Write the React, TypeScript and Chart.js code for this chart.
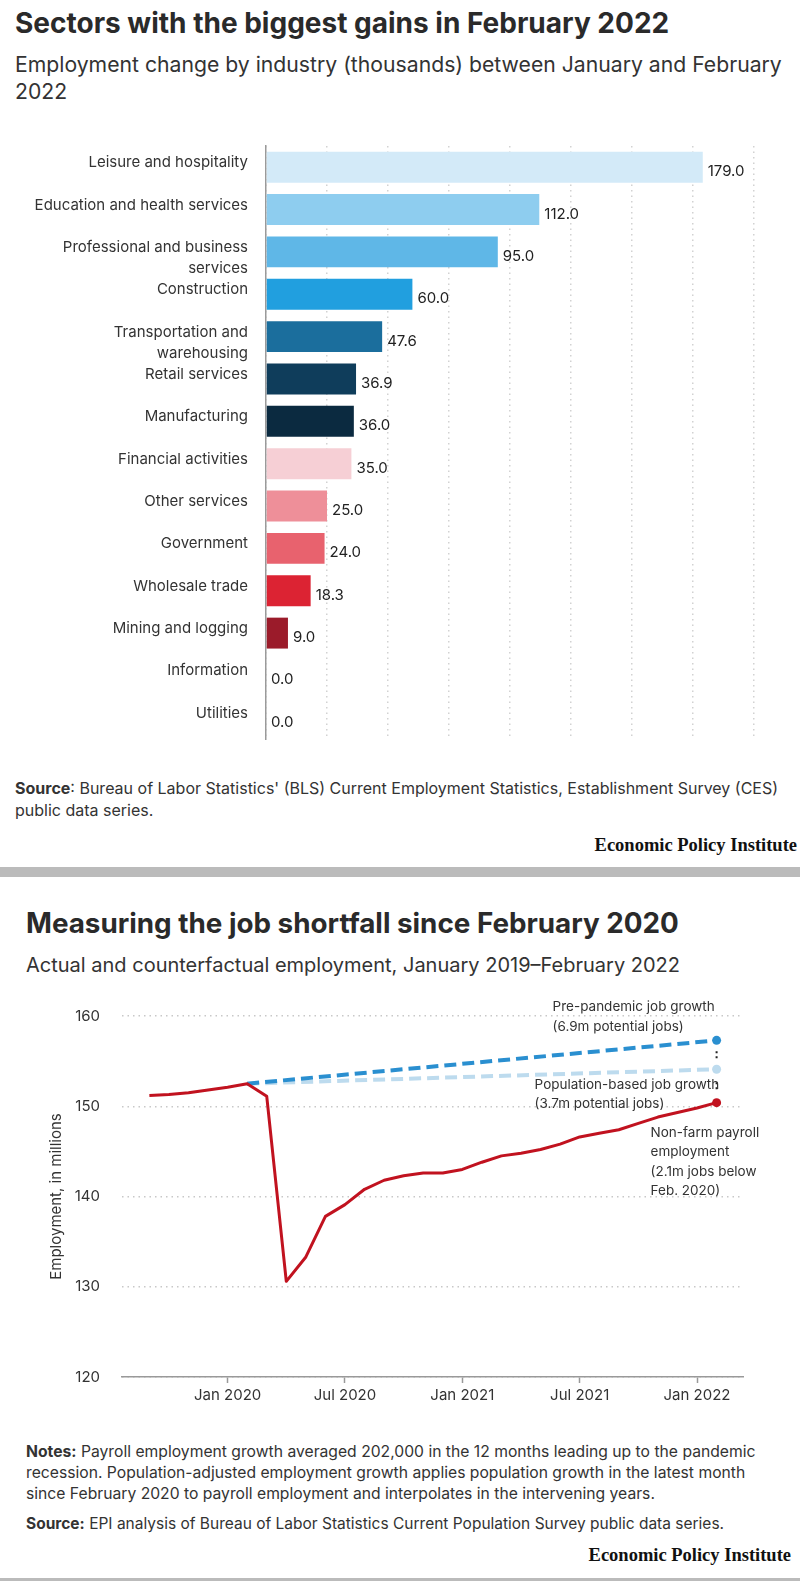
import React, { useEffect, useRef } from 'react';
import { Chart, registerables } from 'chart.js';

Chart.register(...registerables);

const FONT = 'Inter, "Noto Sans", sans-serif';
const SERIF = '"Liberation Serif", "DejaVu Serif", serif';

// ---------- Chart 1: sectors ----------
const sectorCategories: string[][] = [
  ['Leisure and hospitality', ''],
  ['Education and health services', ''],
  ['Professional and business', 'services'],
  ['Construction', ''],
  ['Transportation and', 'warehousing'],
  ['Retail services', ''],
  ['Manufacturing', ''],
  ['Financial activities', ''],
  ['Other services', ''],
  ['Government', ''],
  ['Wholesale trade', ''],
  ['Mining and logging', ''],
  ['Information', ''],
  ['Utilities', ''],
];
const sectorValues = [179.0, 112.0, 95.0, 60.0, 47.6, 36.9, 36.0, 35.0, 25.0, 24.0, 18.3, 9.0, 0.0, 0.0];
const sectorColors = [
  '#d3eaf8', '#8ecdef', '#5fb7e7', '#219fdf', '#1b6e9d', '#0f3d5b', '#0b2a40',
  '#f6cfd5', '#ee8f99', '#e8626e', '#dc2333', '#9b1b2a', '#9b1b2a', '#9b1b2a',
];

// ---------- Chart 2: job shortfall ----------
const payrollMonths = [
  '2019-09', '2019-10', '2019-11', '2019-12',
  '2020-01', '2020-02', '2020-03', '2020-04', '2020-05', '2020-06',
  '2020-07', '2020-08', '2020-09', '2020-10', '2020-11', '2020-12',
  '2021-01', '2021-02', '2021-03', '2021-04', '2021-05', '2021-06',
  '2021-07', '2021-08', '2021-09', '2021-10', '2021-11', '2021-12',
  '2022-01', '2022-02',
];
const payrollValues = [
  151.2, 151.3, 151.5, 151.8,
  152.1, 152.5, 151.1, 130.6, 133.3, 137.8,
  139.1, 140.8, 141.8, 142.3, 142.6, 142.6,
  143.0, 143.8, 144.5, 144.8, 145.2, 145.8,
  146.6, 147.0, 147.4, 148.1, 148.8, 149.3,
  149.8, 150.4,
];
const projectionMonths = ['2020-02', '2022-02'];
const prePandemicValues = [152.5, 157.3];
const populationValues = [152.5, 154.1];
const xTickMonths = ['2020-01', '2020-07', '2021-01', '2021-07', '2022-01'];
const xTickLabels = ['Jan 2020', 'Jul 2020', 'Jan 2021', 'Jul 2021', 'Jan 2022'];
const preNote = ['Pre-pandemic job growth', '(6.9m potential jobs)'];
const popNote = ['Population-based job growth', '(3.7m potential jobs)'];
const payrollNote = ['Non-farm payroll', 'employment', '(2.1m jobs below', 'Feb. 2020)'];

const RED = '#c1121f';
const BLUE = '#2a8fd0';
const LIGHT = '#bddbee';

const toMonthIndex = (m: string) => {
  const [y, mo] = m.split('-').map(Number);
  return (y - 2020) * 12 + (mo - 1);
};

const valueLabelPlugin = {
  id: 'valueLabels',
  afterDatasetsDraw(chart: any) {
    const ctx = chart.ctx;
    const meta = chart.getDatasetMeta(0);
    ctx.save();
    ctx.font = `15px ${FONT}`;
    ctx.fillStyle = '#222';
    ctx.textAlign = 'left';
    ctx.textBaseline = 'middle';
    meta.data.forEach((bar: any, i: number) => {
      ctx.fillText(sectorValues[i].toFixed(1), bar.x + 5, bar.y + 4.5);
    });
    ctx.restore();
  },
};

const notesPlugin = {
  id: 'lineNotes',
  afterDatasetsDraw(chart: any) {
    const ctx = chart.ctx;
    const pre = chart.getDatasetMeta(1).data;
    const pop = chart.getDatasetMeta(2).data;
    const pay = chart.getDatasetMeta(0).data;
    const preEnd = pre[pre.length - 1];
    const popEnd = pop[pop.length - 1];
    const payEnd = pay[pay.length - 1];
    ctx.save();
    ctx.font = `13.5px ${FONT}`;
    ctx.fillStyle = '#333';
    ctx.textAlign = 'left';
    ctx.textBaseline = 'middle';
    preNote.forEach((t, i) => ctx.fillText(t, preEnd.x - 164, preEnd.y - 33 + i * 20));
    popNote.forEach((t, i) => ctx.fillText(t, popEnd.x - 182, popEnd.y + 16 + i * 19));
    payrollNote.forEach((t, i) => ctx.fillText(t, payEnd.x - 66, payEnd.y + 30 + i * 19.5));
    ctx.restore();
  },
};

function SectorChart() {
  const ref = useRef<HTMLCanvasElement>(null);
  useEffect(() => {
    if (!ref.current) return;
    const chart = new Chart(ref.current, {
      type: 'bar',
      data: {
        labels: sectorCategories as any,
        datasets: [
          {
            data: sectorValues,
            backgroundColor: sectorColors,
            barPercentage: 0.73,
            categoryPercentage: 1,
          },
        ],
      },
      options: {
        indexAxis: 'y',
        animation: false,
        responsive: false,
        maintainAspectRatio: false,
        layout: { padding: { left: 0, right: 46, top: 16, bottom: 21 } },
        plugins: { legend: { display: false }, tooltip: { enabled: false } },
        scales: {
          x: {
            min: 0,
            max: 200,
            ticks: { display: false, stepSize: 25 },
            grid: { color: '#d2d2d2', drawTicks: false, lineWidth: 1.5 },
            border: { display: false, dash: [1.5, 4] },
          },
          y: {
            ticks: {
              color: '#333',
              font: { family: FONT, size: 15, lineHeight: 1.4 },
              padding: 18,
              labelOffset: 6,
              autoSkip: false,
            },
            grid: { display: false, drawTicks: false },
            border: { display: true, color: '#9a9a9a', width: 1.5 },
            afterFit: (s: any) => {
              s.width = 266;
              s.paddingTop = 0;
              s.paddingBottom = 0;
            },
          },
        },
      } as any,
      plugins: [valueLabelPlugin],
    });
    return () => chart.destroy();
  }, []);
  return <canvas ref={ref} width={800} height={630} style={{ position: 'absolute', left: 0, top: 130 }} />;
}

function ShortfallChart() {
  const ref = useRef<HTMLCanvasElement>(null);
  useEffect(() => {
    if (!ref.current) return;
    const endX = toMonthIndex(projectionMonths[projectionMonths.length - 1]);
    const chart = new Chart(ref.current, {
      type: 'line',
      data: {
        datasets: [
          {
            data: payrollMonths.map((m, i) => ({ x: toMonthIndex(m), y: payrollValues[i] })),
            borderColor: RED,
            backgroundColor: RED,
            borderWidth: 3,
            borderJoinStyle: 'round',
            pointRadius: (c: any) => (c.dataIndex === payrollValues.length - 1 ? 4.5 : 0),
            pointBorderWidth: 0,
            order: 0,
          },
          {
            data: projectionMonths.map((m, i) => ({ x: toMonthIndex(m), y: prePandemicValues[i] })),
            borderColor: BLUE,
            backgroundColor: BLUE,
            borderWidth: 4,
            borderDash: [12, 6],
            pointRadius: [0, 4.5],
            pointBorderWidth: 0,
            order: 2,
          },
          {
            data: projectionMonths.map((m, i) => ({ x: toMonthIndex(m), y: populationValues[i] })),
            borderColor: LIGHT,
            backgroundColor: LIGHT,
            borderWidth: 4,
            borderDash: [12, 6],
            pointRadius: [0, 4.5],
            pointBorderWidth: 0,
            order: 3,
          },
          {
            data: [
              { x: endX, y: prePandemicValues[1] },
              { x: endX, y: populationValues[1] },
            ],
            borderColor: '#222',
            borderWidth: 2,
            borderDash: [0, 11, 2, 3, 2, 100],
            pointRadius: 0,
            order: 4,
          },
          {
            data: [
              { x: endX, y: populationValues[1] },
              { x: endX, y: payrollValues[payrollValues.length - 1] },
            ],
            borderColor: '#222',
            borderWidth: 2,
            borderDash: [0, 13, 2, 3, 2, 100],
            pointRadius: 0,
            order: 4,
          },
        ],
      },
      options: {
        animation: false,
        responsive: false,
        maintainAspectRatio: false,
        layout: { padding: { left: 0, right: 57, top: 31, bottom: 0 } },
        plugins: { legend: { display: false }, tooltip: { enabled: false } },
        scales: {
          x: {
            type: 'linear',
            min: -5.4,
            max: 26.35,
            afterBuildTicks: (s: any) => {
              s.ticks = xTickMonths.map((m) => ({ value: toMonthIndex(m) }));
            },
            ticks: {
              callback: (_v: any, i: number) => xTickLabels[i],
              color: '#333',
              font: { family: FONT, size: 15 },
              padding: 3,
              maxRotation: 0,
              autoSkip: false,
            },
            grid: { drawOnChartArea: false, drawTicks: true, tickLength: 6, tickColor: '#999', tickWidth: 1.5 },
            border: { display: true, color: '#999', width: 1.5 },
            afterFit: (s: any) => {
              s.height = 43;
            },
          },
          y: {
            min: 120,
            max: 160,
            ticks: { stepSize: 10, color: '#333', font: { family: FONT, size: 15 }, padding: 22 },
            grid: { color: '#c8c8c8', drawTicks: false, lineWidth: 1.5 },
            border: { display: false, dash: [1.5, 4] },
            title: {
              display: true,
              text: 'Employment, in millions',
              color: '#333',
              font: { family: FONT, size: 15 },
              padding: { top: 47, bottom: 0 },
            },
            afterFit: (s: any) => {
              s.width = 122;
            },
          },
        },
      } as any,
      plugins: [notesPlugin],
    });
    return () => chart.destroy();
  }, []);
  return <canvas ref={ref} width={800} height={435} style={{ position: 'absolute', left: 0, top: 985 }} />;
}

const abs = (left: number, top: number, extra: React.CSSProperties = {}): React.CSSProperties => ({
  position: 'absolute',
  left,
  top,
  whiteSpace: 'nowrap',
  fontFamily: FONT,
  ...extra,
});

export default function App() {
  return (
    <div style={{ position: 'relative', width: 800, height: 1581, background: '#fff', overflow: 'hidden' }}>
      <style>{'body{margin:0;background:#fff}'}</style>

      <div style={abs(15, 6, { fontSize: 28, fontWeight: 700, lineHeight: '34px', color: '#2a2a2a' })}>
        Sectors with the biggest gains in February 2022
      </div>
      <div style={abs(15, 51, { fontSize: 21.2, lineHeight: '27px', color: '#333' })}>
        Employment change by industry (thousands) between January and February
        <br />
        2022
      </div>

      <SectorChart />

      <div style={abs(15, 777, { fontSize: 16, lineHeight: '22px', color: '#333' })}>
        <span style={{ fontWeight: 700 }}>Source</span>: Bureau of Labor Statistics' (BLS) Current Employment
        Statistics, Establishment Survey (CES)
        <br />
        public data series.
      </div>
      <div
        style={{
          position: 'absolute',
          right: 3,
          top: 833,
          fontFamily: SERIF,
          fontWeight: 700,
          fontSize: 18.5,
          lineHeight: '24px',
          color: '#111',
          whiteSpace: 'nowrap',
        }}
      >
        Economic Policy Institute
      </div>
      <div style={{ position: 'absolute', left: 0, top: 867, width: 800, height: 10, background: '#bbbbbb' }} />

      <div style={abs(26, 905.5, { fontSize: 27.8, fontWeight: 700, lineHeight: '34px', color: '#2a2a2a' })}>
        Measuring the job shortfall since February 2020
      </div>
      <div style={abs(26, 951.5, { fontSize: 20, lineHeight: '27px', color: '#333' })}>
        Actual and counterfactual employment, January 2019–February 2022
      </div>

      <ShortfallChart />

      <div style={abs(26, 1440.5, { fontSize: 15.7, lineHeight: '21px', color: '#333' })}>
        <span style={{ fontWeight: 700 }}>Notes:</span> Payroll employment growth averaged 202,000 in the 12 months
        leading up to the pandemic
        <br />
        recession. Population-adjusted employment growth applies population growth in the latest month
        <br />
        since February 2020 to payroll employment and interpolates in the intervening years.
      </div>
      <div style={abs(26, 1512.5, { fontSize: 15.5, lineHeight: '21px', color: '#333' })}>
        <span style={{ fontWeight: 700 }}>Source:</span> EPI analysis of Bureau of Labor Statistics Current
        Population Survey public data series.
      </div>
      <div
        style={{
          position: 'absolute',
          right: 9,
          top: 1543,
          fontFamily: SERIF,
          fontWeight: 700,
          fontSize: 18.5,
          lineHeight: '24px',
          color: '#111',
          whiteSpace: 'nowrap',
        }}
      >
        Economic Policy Institute
      </div>
      <div style={{ position: 'absolute', left: 0, top: 1578, width: 800, height: 3, background: '#bbbbbb' }} />
    </div>
  );
}
